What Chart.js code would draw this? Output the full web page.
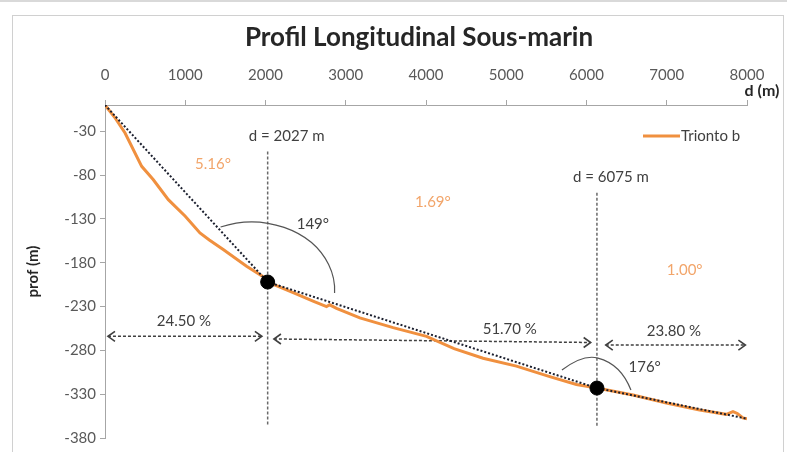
<!DOCTYPE html>
<html><head><meta charset="utf-8">
<script src="https://cdn.jsdelivr.net/npm/chart.js@4/dist/chart.umd.min.js"></script>
<style>
html,body{margin:0;padding:0;background:#fff;}
#wrap{position:relative;width:787px;height:452px;overflow:hidden;background:#fff;}
#topline{position:absolute;left:0;top:0;width:787px;height:2px;background:#d9d9d9;}
#frame{position:absolute;left:12px;top:15px;width:770px;height:450px;border:1px solid #d0d0d0;}
canvas{position:absolute;left:0;top:0;}
</style></head><body>
<div id="wrap"><div id="topline"></div><div id="frame"></div><canvas id="c" width="787" height="452"></canvas></div>
<script>
// ---- data ----
const distances = [0,120,250,457,600,789,1000,1183,1300,1473,1764,1971,2055,2345,2600,2761,2800,2885,3176,3590,4006,4350,4711,5127,5542,5874,6130,6579,6995,7410,7742,7825,7880,7949,8000];
const depths    = [0,-14,-32,-70,-85,-108,-127,-146,-154,-165,-184,-196,-203,-214,-224,-230,-228,-232,-243,-254,-264,-278,-289,-298,-310,-319,-323,-331,-340,-348,-353,-350,-352,-357,-358];
const chordX = [0,2027,6130,8000];
const chordY = [0,-202,-323,-358];
const breakX = [2027,6130];
const breakY = [-202,-323];
const breakLabels = ['d = 2027 m','d = 6075 m'];
const vLineTop = [-53,-100];
const vLineBottom = [-367,-368];
const arrowStartX = [37,2105,6240];
const arrowEndX   = [1955,6052,7980];
const arrowStartY = [-264,-267,-274];
const arrowEndY   = [-264,-271,-274];
const shareLabels = ['24.50 %','51.70 %','23.80 %'];
const shareLabelX = [984,5044,7090];
const shareLabelY = [-247,-256,-258];
const slopeLabels = ['5.16°','1.69°','1.00°'];
const slopeLabelX = [1345,4085,7223];
const slopeLabelY = [-68,-111,-189];
const angleLabels = ['149°','176°'];
const angleLabelX = [2590,6725];
const angleLabelY = [-136,-299];
const xTicks = [0,1000,2000,3000,4000,5000,6000,7000,8000];
const yTicks = [-380,-330,-280,-230,-180,-130,-80,-30];
const chartTitle = 'Profil Longitudinal Sous-marin';
const xTitle = 'd (m)';
const yTitle = 'prof (m)';
const seriesName = 'Trionto b';

const FONT = 'Lato';
const ORANGE = '#F0903F';
const pts = (xs, ys) => xs.map((v,i)=>({x:v,y:ys[i]}));

const datasets = [
  {type:'scatter', label:'breaks', data:pts(breakX,breakY), backgroundColor:'#000', borderColor:'#000', pointRadius:7, order:0},
  {label:'chord', data:pts(chordX,chordY), borderColor:'#1b1f2e', borderWidth:2, borderDash:[2,2], pointRadius:0, order:1},
  {label:seriesName, data:pts(distances,depths), borderColor:ORANGE, borderWidth:3, pointRadius:0, order:2},
];
breakX.forEach((bx,i)=>datasets.push({label:'v'+i, data:[{x:bx,y:vLineTop[i]},{x:bx,y:vLineBottom[i]}], borderColor:'#6a6a6a', borderWidth:1.5, borderDash:[3,2], pointRadius:0, order:3}));
arrowStartX.forEach((ax,i)=>datasets.push({label:'a'+i, data:[{x:ax,y:arrowStartY[i]},{x:arrowEndX[i],y:arrowEndY[i]}], borderColor:'#404040', borderWidth:1.5, borderDash:[3,2], pointRadius:0, order:3}));

const annot = {
  id:'annot',
  afterDatasetsDraw(chart){
    const {ctx, chartArea, scales:{x,y}} = chart;
    const px = v=>x.getPixelForValue(v), py = v=>y.getPixelForValue(v);
    ctx.save();
    // title
    ctx.textAlign='center'; ctx.textBaseline='middle';
    ctx.font='bold 26px '+FONT; ctx.fillStyle='#262626';
    ctx.fillText(chartTitle, 419, 38);
    // arrowheads
    ctx.strokeStyle='#404040'; ctx.lineWidth=1.6; ctx.setLineDash([]);
    arrowStartX.forEach((ax,i)=>{
      const x1=px(ax), y1=py(arrowStartY[i]), x2=px(arrowEndX[i]), y2=py(arrowEndY[i]);
      ctx.beginPath(); ctx.moveTo(x1+7,y1-5); ctx.lineTo(x1,y1); ctx.lineTo(x1+7,y1+5); ctx.stroke();
      ctx.beginPath(); ctx.moveTo(x2-7,y2-5); ctx.lineTo(x2,y2); ctx.lineTo(x2-7,y2+5); ctx.stroke();
    });
    // angle arcs
    ctx.strokeStyle='#555'; ctx.lineWidth=1.2;
    const d1x=px(breakX[0]), d1y=py(breakY[0]);
    ctx.beginPath(); ctx.ellipse(d1x-16,d1y+8,83,68,0,248*Math.PI/180,362.5*Math.PI/180); ctx.stroke();
    const d2x=px(breakX[1]), d2y=py(breakY[1]);
    ctx.beginPath(); ctx.moveTo(d2x-35,d2y-18);
    ctx.quadraticCurveTo(d2x-14,d2y-34,d2x+1,d2y-30);
    ctx.quadraticCurveTo(d2x+24,d2y-24,d2x+34,d2y+2); ctx.stroke();
    // texts
    ctx.font = '15px '+FONT; ctx.fillStyle='#404040';
    breakLabels.forEach((t,i)=>{ ctx.fillText(t, px(breakX[i])+ (i===0?19:14), py(vLineTop[i])-15); });
    shareLabels.forEach((t,i)=>ctx.fillText(t, px(shareLabelX[i]), py(shareLabelY[i])));
    angleLabels.forEach((t,i)=>ctx.fillText(t, px(angleLabelX[i]), py(angleLabelY[i])));
    ctx.fillStyle='#F2A56A';
    slopeLabels.forEach((t,i)=>ctx.fillText(t, px(slopeLabelX[i]), py(slopeLabelY[i])));
    // legend
    const lx = chartArea.right-104, ly = chartArea.top+31;
    ctx.strokeStyle=ORANGE; ctx.lineWidth=3; ctx.beginPath(); ctx.moveTo(lx,ly); ctx.lineTo(lx+37,ly); ctx.stroke();
    ctx.fillStyle='#404040'; ctx.textAlign='left'; ctx.font='15px '+FONT;
    ctx.fillText(seriesName, lx+38, ly);
    // x axis title
    ctx.font='bold 16px '+FONT; ctx.fillStyle='#262626'; ctx.textAlign='center';
    ctx.fillText(xTitle, chartArea.right+15, chartArea.top-14);
    ctx.restore();
  }
};

new Chart(document.getElementById('c'), {
  type:'line',
  data:{datasets},
  options:{
    responsive:false, animation:false,
    layout:{padding:{left:0,top:0,right:40,bottom:14}},
    plugins:{ legend:{display:false}, tooltip:{enabled:false}, title:{display:false} },
    scales:{
      x:{type:'linear', position:'top', min:0, max:8000,
        afterBuildTicks:s=>{s.ticks = xTicks.map(v=>({value:v}));},
        afterFit:s=>{s.height = 105;},
        ticks:{color:'#595959', font:{family:FONT,size:15}, padding:16, maxRotation:0, callback:v=>String(v)},
        grid:{drawOnChartArea:false, tickLength:5, color:'#a6a6a6'},
        border:{color:'#a6a6a6'}},
      y:{type:'linear', min:-380, max:0,
        afterBuildTicks:s=>{s.ticks = yTicks.map(v=>({value:v}));},
        afterFit:s=>{s.width = 105;},
        ticks:{color:'#595959', font:{family:FONT,size:15}, padding:4},
        grid:{drawOnChartArea:false, tickLength:5, color:'#a6a6a6'},
        border:{color:'#a6a6a6'},
        title:{display:true, text:yTitle, color:'#262626', font:{family:FONT,size:15,weight:'bold'}, padding:{top:24,bottom:0}}}
    }
  },
  plugins:[annot]
});
</script>
</body></html>
